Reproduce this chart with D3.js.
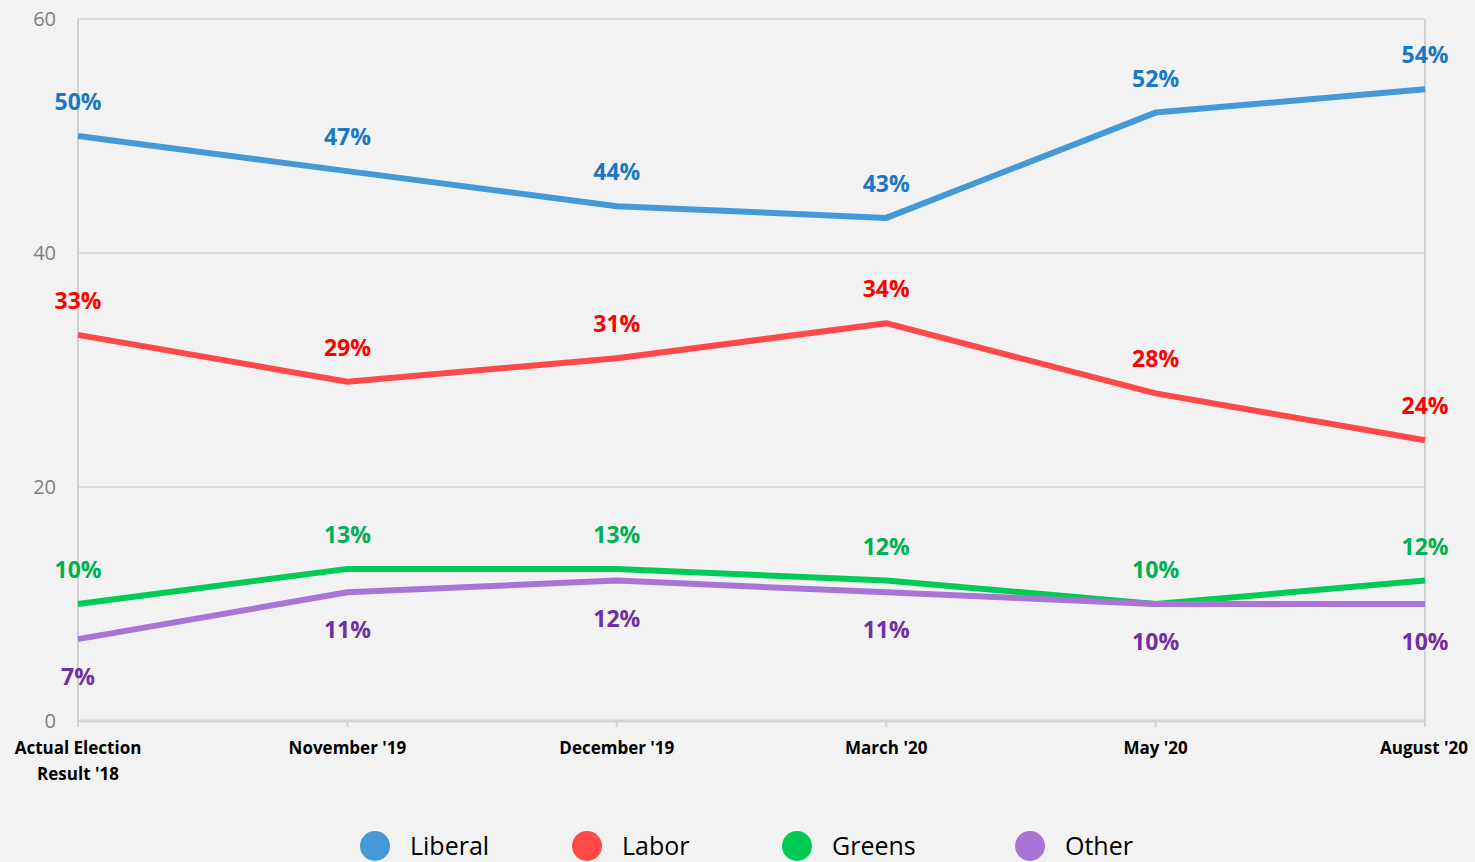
<!DOCTYPE html>
<html lang="en">
<head>
  <meta charset="UTF-8">
  <title>Voting intention</title>
  <script src="https://cdn.jsdelivr.net/npm/d3@7"></script>
<style>
body{
  margin: 0;
  background: #f2f2f2;
}
#grafico{
  width: 1475px;
  height: 862px;
  overflow: hidden;
}
.linea{
  fill: none;
  stroke-width: 6;
  stroke-linejoin: round;
}
.etiqueta{
  font-family: "Open Sans", sans-serif;
  font-weight: bold;
  font-size: 23px;
}
</style>
</head>
<body>
  <div id="grafico"></div>

  <script>
    // datos
    var meses = ["Actual Election|Result '18", "November '19", "December '19", "March '20", "May '20", "August '20"];
    var liberal = [50, 47, 44, 43, 52, 54];
    var labor = [33, 29, 31, 34, 28, 24];
    var greens = [10, 13, 13, 12, 10, 12];
    var other = [7, 11, 12, 11, 10, 10];
    var yTicks = [0, 20, 40, 60];

    var series = [
      {nombre: "Liberal", valores: liberal, linea: "#4499d6", texto: "#1a78c2", arriba: true},
      {nombre: "Labor", valores: labor, linea: "#ff4848", texto: "#ff0000", arriba: true},
      {nombre: "Greens", valores: greens, linea: "#00cc55", texto: "#00b050", arriba: true},
      {nombre: "Other", valores: other, linea: "#a874d6", texto: "#7030a0", arriba: false}
    ];

    var w = 1475, h = 862;
    var svg = d3.select("#grafico").append("svg")
      .attr("width", w).attr("height", h);

    var x = d3.scalePoint().domain(d3.range(meses.length)).range([78, 1425]);
    var y = d3.scaleLinear().domain([0, 60]).range([721, 19]);

    // rejilla
    svg.selectAll(".grid").data(yTicks).enter().append("line")
      .attr("x1", 78).attr("x2", 1425)
      .attr("y1", function(d){ return y(d); })
      .attr("y2", function(d){ return y(d); })
      .attr("stroke", function(d){ return d === 0 ? "#d4d4d4" : "#d9d9d9"; })
      .attr("stroke-width", function(d){ return d === 0 ? 3 : 2; });

    svg.append("line").attr("x1", 78).attr("x2", 78).attr("y1", y(60)).attr("y2", y(0))
      .attr("stroke", "#d0d0d0").attr("stroke-width", 2);
    svg.append("line").attr("x1", 1425).attr("x2", 1425).attr("y1", y(60)).attr("y2", y(0))
      .attr("stroke", "#d0d0d0").attr("stroke-width", 2);

    // ticks del eje x
    svg.selectAll(".xtick").data(d3.range(meses.length)).enter().append("line")
      .attr("x1", function(d){ return x(d); }).attr("x2", function(d){ return x(d); })
      .attr("y1", y(0)).attr("y2", y(0) + 6)
      .attr("stroke", "#d0d0d0").attr("stroke-width", 2);

    // eje y
    svg.selectAll(".ylab").data(yTicks).enter().append("text")
      .attr("x", 56).attr("y", function(d){ return y(d) + 7; })
      .attr("text-anchor", "end")
      .attr("fill", "#7f7f7f")
      .style("font-family", "'Open Sans', sans-serif")
      .style("font-size", "20px")
      .text(function(d){ return d; });

    // eje x
    var xl = svg.selectAll(".xlab").data(meses).enter().append("text")
      .attr("text-anchor", "middle")
      .attr("fill", "#000")
      .style("font-family", "'Open Sans', sans-serif")
      .style("font-weight", "bold")
      .style("font-size", "17px")
      .attr("transform", function(d, i){
        var px = x(i);
        if (i === meses.length - 1) px = 1424;
        return "translate(" + px + ",754)";
      });
    xl.each(function(d){
      var t = d3.select(this);
      d.split("|").forEach(function(parte, k){
        t.append("tspan").attr("x", 0).attr("dy", k === 0 ? 0 : 26).text(parte);
      });
    });

    var linea = d3.line()
      .x(function(d, i){ return x(i); })
      .y(function(d){ return y(d); });

    series.forEach(function(s){
      svg.append("path")
        .datum(s.valores)
        .classed("linea", true)
        .attr("stroke", s.linea)
        .attr("d", linea);
    });

    series.forEach(function(s){
      svg.selectAll(null).data(s.valores).enter().append("text")
        .classed("etiqueta", true)
        .attr("text-anchor", "middle")
        .attr("fill", s.texto)
        .attr("x", function(d, i){ return x(i); })
        .attr("y", function(d){ return s.arriba ? y(d) - 26 : y(d) + 46; })
        .text(function(d){ return d + "%"; });
    });

    // leyenda
    var leyX = [375, 587, 797, 1030];
    var ley = svg.selectAll(".ley").data(series).enter().append("g")
      .attr("transform", function(d, i){ return "translate(" + leyX[i] + ",846)"; });
    ley.append("circle").attr("r", 15).attr("fill", function(d){ return d.linea; });
    ley.append("text")
      .attr("x", 35).attr("y", 9)
      .attr("fill", "#000")
      .style("font-family", "'Open Sans', sans-serif")
      .style("font-size", "25px")
      .text(function(d){ return d.nombre; });
  </script>
</body>
</html>
